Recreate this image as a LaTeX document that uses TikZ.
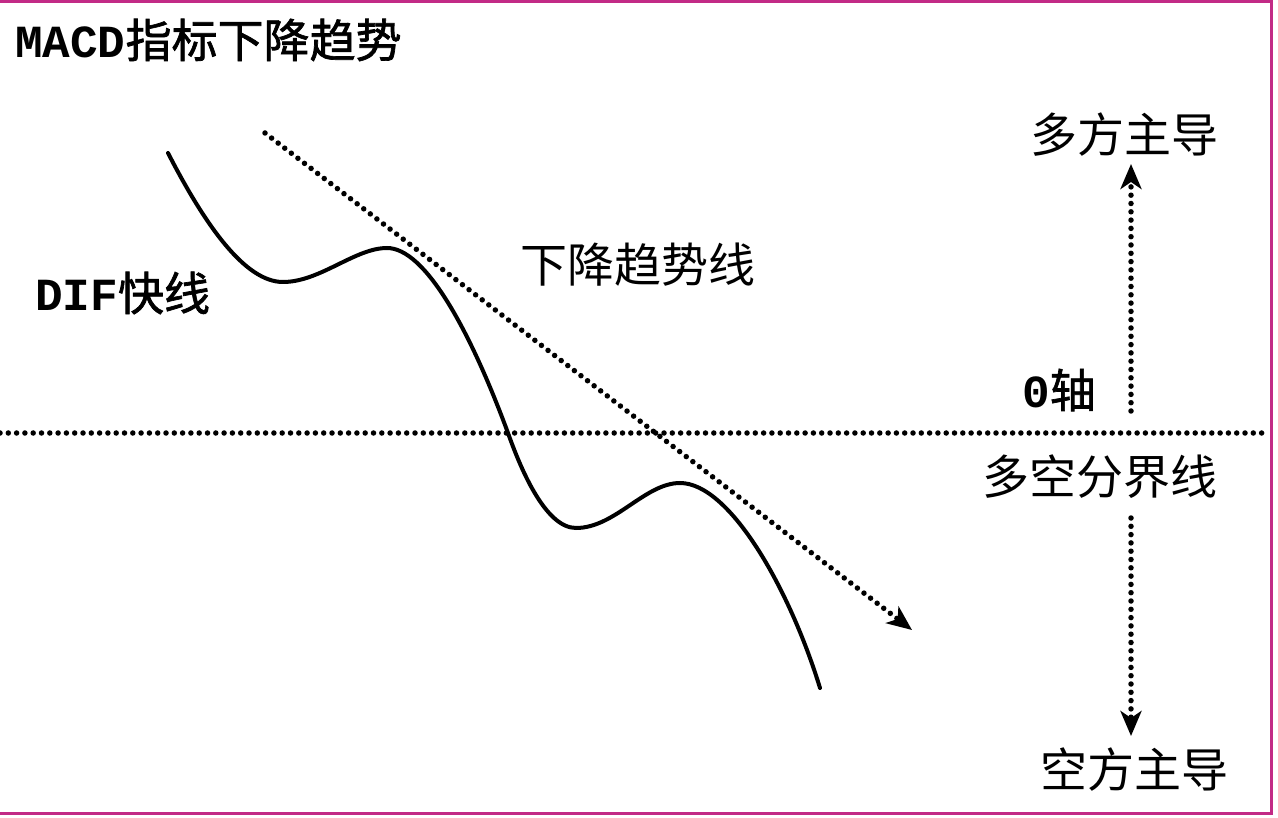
\documentclass[tikz,border=0pt]{standalone}
\usepackage{fontspec}
\usetikzlibrary{arrows.meta}
\newfontfamily\cjk{Noto Sans CJK SC}
\newfontfamily\cjkb[FakeBold=1.5]{Noto Sans CJK SC}
\newfontfamily\latb{Liberation Mono}[BoldFont={Liberation Mono Bold}]
\definecolor{frame}{HTML}{C22A86}
\tikzset{
  lbl/.style={anchor=west, inner sep=0pt, font=\fontsize{47}{50}\selectfont\cjk},
  blbl/.style={anchor=west, inner sep=0pt, font=\fontsize{46}{50}\selectfont\cjkb},
  dotline/.style={line width=5.5pt, line cap=round, dash pattern=on 0pt off 8.3pt},
  tip/.style={-{Stealth[length=25pt,width=21pt,inset=7pt]}},
}
\begin{document}
\begin{tikzpicture}[x=1pt,y=-1pt]
\useasboundingbox (0,0) rectangle (1278,818);
\fill[white] (0,0) rectangle (1278,818);
% frame
\draw[frame, line width=3pt] (0,1.5) -- (1271,1.5) -- (1271,813.5) -- (0,813.5);
% labels
\node[blbl] (title) at (15,40) {{\latb\bfseries MACD}指标下降趋势};
\node[lbl] (bull) at (1030,135) {多方主导};
\node[lbl] (trendlbl) at (520,265) {下降趋势线};
\node[blbl] (dif) at (35,293) {{\latb\bfseries DIF}快线};
\node[blbl] (zero) at (1022,390) {{\latb\bfseries 0}轴};
\node[lbl] (divide) at (982,477) {多空分界线};
\node[lbl] (bear) at (1040,770) {空方主导};
% zero axis
\coordinate (axL) at (0,433);
\coordinate (axR) at (1268,433);
\draw[dotline] (axL) -- (axR);
% trend line
\coordinate (trS) at (265,133);
\coordinate (trE) at (912,630);
\draw[dotline, tip] (trS) -- (trE);
% vertical arrows
\coordinate (upS) at (1131,411);
\coordinate (upE) at (1131,164);
\coordinate (dnS) at (1131,518);
\coordinate (dnE) at (1131,736);
\draw[dotline, tip] (upS) -- (upE);
\draw[dotline, tip] (dnS) -- (dnE);
% DIF curve
\draw[line width=4pt, line cap=round]
  (168,153) .. controls (205,225) and (245,282) .. (283,282)
  .. controls (320,282) and (355,248) .. (387,248)
  .. controls (425,248) and (470,330) .. (508,433)
  .. controls (520,467) and (545,528) .. (576,528)
  .. controls (615,528) and (645,483) .. (680,483)
  .. controls (730,483) and (790,590) .. (820,688);
\end{tikzpicture}
\end{document}
